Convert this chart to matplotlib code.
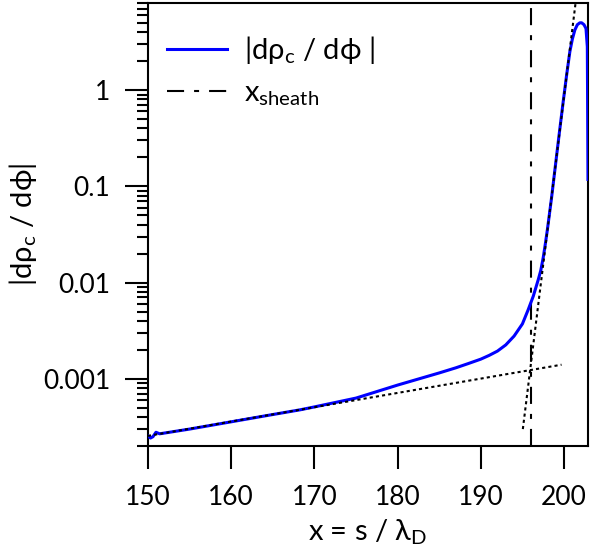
import matplotlib
matplotlib.use("Agg")
import matplotlib.pyplot as plt
from matplotlib.ticker import FixedLocator, LogLocator, FuncFormatter, NullFormatter

plt.rcParams['font.family'] = ['Lato', 'DejaVu Sans']
plt.rcParams['mathtext.fontset'] = 'custom'
plt.rcParams['mathtext.rm'] = 'Lato'
plt.rcParams['mathtext.it'] = 'Lato:italic'
plt.rcParams['mathtext.fallback'] = 'stixsans'

# curve |d rho_c / d phi|
x_pos = [150.0, 150.3, 150.6, 150.96, 151.4, 152.0, 155.0, 160.0, 165.0, 168.3,
         170.0, 175.0, 180.0, 185.0, 187.0, 188.5, 190.0, 191.0, 192.0, 193.0,
         194.0, 195.0, 195.7, 196.3, 196.9, 197.2, 197.5, 197.75, 198.0, 198.5,
         198.9, 199.4, 199.9, 200.3, 200.7, 201.0, 201.3, 201.6, 201.9, 202.12,
         202.4, 202.64, 202.8, 202.88]
drho = [2.55e-4, 2.42e-4, 2.5e-4, 2.78e-4, 2.68e-4, 2.73e-4, 3.0e-4, 3.57e-4, 4.25e-4, 4.76e-4,
        5.1e-4, 6.3e-4, 8.6e-4, 1.15e-3, 1.30e-3, 1.44e-3, 1.60e-3, 1.75e-3, 1.94e-3, 2.25e-3,
        2.78e-3, 3.72e-3, 5.24e-3, 7.2e-3, 0.0107, 0.0133, 0.0182, 0.0251, 0.0355, 0.0759,
        0.148, 0.339, 0.759, 1.41, 2.51, 3.39, 4.22, 4.79, 5.01, 5.01,
        4.79, 4.37, 2.82, 0.118]

# fitted asymptotes (dotted)
low_fit_x = [150.0, 199.7]
low_fit_y = [2.55e-4, 1.40e-3]
steep_fit_x = [195.05, 202.0]
steep_fit_y = [3.0e-4, 21.6]

x_sheath = 196.0

x_ticks = [150, 160, 170, 180, 190, 200]
y_ticks = [0.001, 0.01, 0.1, 1]

fs = 19      # tick labels
fs_lab = 21  # axis labels and legend

fig = plt.figure(figsize=(5.9, 5.54), dpi=100)
ax = fig.add_axes([0.2508, 0.1949, 0.7458, 0.7997])

ax.plot(x_pos, drho, color='#0000ff', lw=2.2, label='|dρ$_\\mathregular{c}$ / dϕ |', zorder=3)
ax.axvline(x_sheath, color='black', lw=1.5, dashes=(8.2, 4.8, 2.4, 4.8),
           label='x$_\\mathregular{sheath}$', zorder=2)
ax.plot(low_fit_x, low_fit_y, color='black', lw=1.5, ls=(0, (1.5, 1.5)), zorder=4)
ax.plot(steep_fit_x, steep_fit_y, color='black', lw=1.5, ls=(0, (1.5, 1.5)), zorder=4)

ax.set_yscale('log')
ax.set_xlim(150, 202.88)
ax.set_ylim(2e-4, 8.05)

ax.xaxis.set_major_locator(FixedLocator(x_ticks))
ax.yaxis.set_major_locator(FixedLocator(y_ticks))
ax.yaxis.set_major_formatter(FuncFormatter(lambda v, p: '%g' % v))
ax.yaxis.set_minor_locator(LogLocator(base=10, subs=range(2, 10), numticks=20))
ax.yaxis.set_minor_formatter(NullFormatter())

ax.tick_params(axis='both', which='major', direction='out', length=16.3, width=1.5,
               labelsize=fs, colors='black')
ax.tick_params(axis='y', which='major', pad=11)
ax.tick_params(axis='x', which='major', pad=12)
ax.tick_params(axis='y', which='minor', direction='out', length=7.9, width=1.5)
for s in ax.spines.values():
    s.set_linewidth(1.5)

ax.set_xlabel('x = s / λ$_\\mathregular{D}$', fontsize=fs_lab, labelpad=5)
ax.set_ylabel('|dρ$_\\mathregular{c}$ / dϕ|', fontsize=fs_lab, labelpad=3)

ax.legend(loc='upper left', bbox_to_anchor=(0.0166, 0.956), borderaxespad=0, frameon=False,
          fontsize=fs_lab, handlelength=2.05, handletextpad=0.58, labelspacing=0.48)

fig.savefig('out.png', dpi=100)
